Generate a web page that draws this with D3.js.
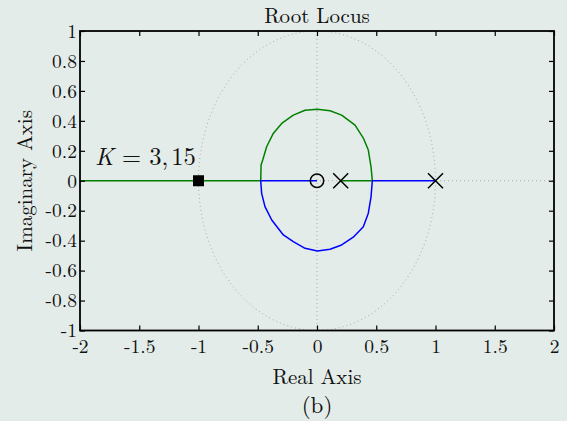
<!DOCTYPE html>
<html><head><meta charset="utf-8">
<script src="https://cdn.jsdelivr.net/npm/d3@7"></script>
<style>
html,body{margin:0;padding:0;background:#e4ece9;}
svg{display:block;}
text{font-family:"Latin Modern Roman","Liberation Serif",serif;fill:#111;}
</style></head>
<body>
<svg id="chart" width="567" height="421"></svg>
<script>
// ---- data ----
const xTicks = [-2, -1.5, -1, -0.5, 0, 0.5, 1, 1.5, 2];
const xTickLabels = ["-2", "-1.5", "-1", "-0.5", "0", "0.5", "1", "1.5", "2"];
const yTicks = [-1, -0.8, -0.6, -0.4, -0.2, 0, 0.2, 0.4, 0.6, 0.8, 1];
const yTickLabels = ["-1", "-0.8", "-0.6", "-0.4", "-0.2", "0", "0.2", "0.4", "0.6", "0.8", "1"];
const poles = [0.2, 1];
const zeros = [0];
const gainRe = -1;
const gainLabel = "3,15";
// branch 1 (green): pole 0.2 -> breakaway -> upper arc -> break-in -> -infinity
const greenRe = [0.2, 0.467, 0.456, 0.433, 0.391, 0.321, 0.208, 0.110, 0.003, -0.101, -0.200, -0.298, -0.369, -0.425, -0.458, -0.472, -0.475, -2];
const greenIm = [0, 0, 0.093, 0.205, 0.285, 0.371, 0.438, 0.467, 0.478, 0.471, 0.438, 0.383, 0.316, 0.227, 0.138, 0.105, 0, 0];
// branch 2 (blue): pole 1 -> breakaway -> lower arc -> break-in -> zero 0
const blueRe = [1, 0.467, 0.456, 0.433, 0.391, 0.306, 0.208, 0.110, 0.003, -0.101, -0.200, -0.284, -0.382, -0.439, -0.467, -0.475, 0];
const blueIm = [0, 0, -0.107, -0.217, -0.307, -0.377, -0.429, -0.457, -0.469, -0.451, -0.407, -0.362, -0.262, -0.173, -0.084, 0, 0];
const circleAngles = d3.range(0, 361, 2);

// ---- chart ----
const FONT = "Latin Modern Roman, Liberation Serif, serif";
const svg = d3.select("#chart");
const L = 80, R = 554, T = 31, B = 330.5;
const x = d3.scaleLinear().domain([-2, 2]).range([L, R]);
const y = d3.scaleLinear().domain([-1, 1]).range([B, T]);

// grid / reference lines (dotted)
const dot = {stroke: "#a8acab", "stroke-width": 1, "stroke-dasharray": "1,3"};
function applyAttrs(sel, o){ for (const k in o) sel.attr(k, o[k]); return sel; }
applyAttrs(svg.append("line").attr("x1", x(0)).attr("x2", x(0)).attr("y1", y(1)).attr("y2", y(-1)), dot);
applyAttrs(svg.append("line").attr("x1", x(-2)).attr("x2", x(2)).attr("y1", y(0)).attr("y2", y(0)), dot);
const circLine = d3.line().x(a => x(Math.cos(a * Math.PI / 180))).y(a => y(Math.sin(a * Math.PI / 180)));
applyAttrs(svg.append("path").attr("d", circLine(circleAngles)).attr("fill", "none"), dot);

// locus branches
const line = d3.line().x(d => x(d[0])).y(d => y(d[1]));
svg.append("path").attr("d", line(greenRe.map((r, i) => [r, greenIm[i]])))
  .attr("fill", "none").attr("stroke", "#008000").attr("stroke-width", 1.5).attr("stroke-linejoin", "round");
svg.append("path").attr("d", line(blueRe.map((r, i) => [r, blueIm[i]])))
  .attr("fill", "none").attr("stroke", "#0000ff").attr("stroke-width", 1.5).attr("stroke-linejoin", "round");

// zeros
svg.selectAll(".zero").data(zeros).enter().append("circle")
  .attr("cx", d => x(d)).attr("cy", y(0)).attr("r", 6.7)
  .attr("fill", "none").attr("stroke", "#000").attr("stroke-width", 1.5);
// poles
const s = 7.5;
svg.selectAll(".pole").data(poles).enter().append("path")
  .attr("d", d => `M${x(d)-s},${y(0)-s}L${x(d)+s},${y(0)+s}M${x(d)-s},${y(0)+s}L${x(d)+s},${y(0)-s}`)
  .attr("stroke", "#000").attr("stroke-width", 1.5).attr("fill", "none");
// gain marker
svg.append("rect").attr("x", x(gainRe) - 5.5).attr("y", y(0) - 5.5).attr("width", 11).attr("height", 11).attr("fill", "#000");
const kt = svg.append("text").attr("x", 95).attr("y", 165).attr("font-size", 24.5);
kt.append("tspan").attr("font-style", "italic").text("K");
const gParts = gainLabel.split(",");
kt.append("tspan").text(" = " + gParts[0] + ",");
kt.append("tspan").attr("dx", 3).text(gParts[1]);

// axes
const fs = 19.5;
const gx = svg.append("g").attr("transform", `translate(0,${B})`)
  .call(d3.axisBottom(x).tickValues(xTicks).tickSize(-5).tickSizeOuter(0).tickPadding(9)
    .tickFormat((d, i) => xTickLabels[i]));
const gy = svg.append("g").attr("transform", `translate(${L},0)`)
  .call(d3.axisLeft(y).tickValues(yTicks).tickSize(-5).tickSizeOuter(0).tickPadding(3)
    .tickFormat((d, i) => yTickLabels[i]));
const gt = svg.append("g").attr("transform", `translate(0,${T})`)
  .call(d3.axisTop(x).tickValues(xTicks).tickSize(-5).tickSizeOuter(0).tickFormat(""));
const gr = svg.append("g").attr("transform", `translate(${R},0)`)
  .call(d3.axisRight(y).tickValues(yTicks).tickSize(-5).tickSizeOuter(0).tickFormat(""));
[gx, gy, gt, gr].forEach(g => {
  g.attr("font-family", FONT);
  g.selectAll(".domain").remove();
  g.selectAll("line").attr("stroke", "#000").attr("stroke-width", 1.2);
  g.selectAll("text").attr("font-size", fs).attr("font-family", FONT).attr("fill", "#111");
});
svg.append("rect").attr("x", L).attr("y", T).attr("width", R - L).attr("height", B - T)
  .attr("fill", "none").attr("stroke", "#000").attr("stroke-width", 1.8);

// titles
svg.append("text").attr("x", (L + R) / 2).attr("y", 23).attr("text-anchor", "middle").attr("font-size", 21).text("Root Locus");
svg.append("text").attr("x", (L + R) / 2).attr("y", 384).attr("text-anchor", "middle").attr("font-size", 21).text("Real Axis");
svg.append("text").attr("transform", `translate(32,${(T + B) / 2}) rotate(-90)`).attr("text-anchor", "middle").attr("font-size", 21).text("Imaginary Axis");
svg.append("text").attr("x", (L + R) / 2).attr("y", 413).attr("text-anchor", "middle").attr("font-size", 23).text("(b)");
</script>
</body></html>
